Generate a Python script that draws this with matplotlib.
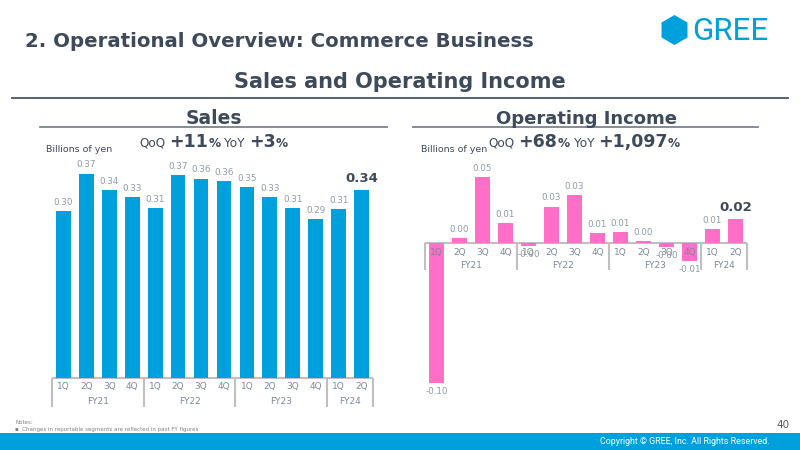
import matplotlib
matplotlib.use('Agg')
import matplotlib.pyplot as plt
from matplotlib.patches import Rectangle, RegularPolygon

# ---------------- data ----------------
quarters = ['1Q', '2Q', '3Q', '4Q', '1Q', '2Q', '3Q', '4Q',
            '1Q', '2Q', '3Q', '4Q', '1Q', '2Q']
fiscal_years = ['FY21', 'FY22', 'FY23', 'FY24']
fy_spans = [(0, 3), (4, 7), (8, 11), (12, 13)]
sales = [0.303, 0.371, 0.341, 0.329, 0.309, 0.369, 0.362, 0.358,
         0.347, 0.329, 0.309, 0.288, 0.307, 0.341]
op_income = [-0.100, 0.0036, 0.047, 0.014, -0.002, 0.026, 0.034, 0.007,
             0.008, 0.0015, -0.003, -0.013, 0.010, 0.017]
sales_qoq, sales_yoy = '+11', '+3'
op_qoq, op_yoy = '+68', '+1,097'

# ---------------- style ----------------
W, H = 800, 450
DARK = '#3E4A5A'
GRAY = '#7C8895'
VAL = '#8D99A6'
LINE = '#BFBFBF'
BLUE = '#00A0DC'
PINK = '#FF6EC7'

fig = plt.figure(figsize=(8, 4.5), dpi=100)
fig.patch.set_facecolor('white')


def fig_rect(x0, y0, x1, y1):
    return [x0 / W, 1 - y1 / H, (x1 - x0) / W, (y1 - y0) / H]


# overlay axes in pixel coordinates
ov = fig.add_axes([0, 0, 1, 1], zorder=0)
ov.set_xlim(0, W)
ov.set_ylim(H, 0)
ov.axis('off')


def bar_panel(rect_px, zero_px, scale, values, color, sep_px, q_px, fy_px):
    x0, y0, x1, y1 = rect_px
    ax = fig.add_axes(fig_rect(*rect_px), zorder=2)
    ax.set_xlim(-0.5, len(values) - 0.5)
    ax.set_ylim(-(y1 - zero_px) / scale, (zero_px - y0) / scale)
    ax.axis('off')
    px = 1.0 / scale
    xs = list(range(len(values)))
    ax.bar(xs, values, width=0.64, color=color, zorder=2)
    ax.plot([-0.5, len(values) - 0.5], [0, 0], color=LINE, lw=1.5,
            zorder=1, clip_on=False, solid_capstyle='butt')
    for i, q in enumerate(quarters):
        ax.text(i, -q_px * px, q, ha='center', va='center', fontsize=6.5,
                color=GRAY, zorder=4)
    bounds = [-0.5] + [b + 0.5 for a, b in fy_spans]
    for b in bounds:
        ax.plot([b, b], [0, -sep_px * px], color=LINE, lw=1.5,
                clip_on=False, zorder=1, solid_capstyle='butt')
    for (a, b), fy in zip(fy_spans, fiscal_years):
        ax.text((a + b) / 2, -fy_px * px, fy, ha='center', va='center',
                fontsize=6.5, color=GRAY, zorder=4)
    for i, v in enumerate(values):
        last = i == len(values) - 1
        kw = dict(ha='center', textcoords='offset points', zorder=5,
                  annotation_clip=False)
        if last:
            kw.update(fontsize=9.5, fontweight='bold', color=DARK)
        else:
            kw.update(fontsize=6.3, color=VAL)
        if v >= 0:
            ax.annotate(f'{v:.2f}', (i, v), xytext=(0, 3.5 if last else 3),
                        va='bottom', **kw)
        else:
            ax.annotate(f'{v:.2f}', (i, v), xytext=(0, -3), va='top', **kw)
    return ax


bar_panel((52, 140, 373, 412), 378, 551.0, sales, BLUE, 29, 9, 23)
bar_panel((425, 160, 747, 400), 243, 1400.0, op_income, PINK, 27, 9, 22)

renderer = fig.canvas.get_renderer()


def rich(xc, y, parts):
    texts, gaps = [], []
    for s, size, weight, gap in parts:
        t = ov.text(0, y, s, fontsize=size, fontweight=weight, color=DARK,
                    va='baseline', ha='left')
        texts.append(t)
        gaps.append(gap)
    widths = [t.get_window_extent(renderer).width for t in texts]
    total = sum(widths) + sum(gaps[:-1])
    x = xc - total / 2
    for t, w, g in zip(texts, widths, gaps):
        t.set_x(x)
        x += w + g


# header
ov.text(25, 47, '2. Operational Overview: Commerce Business', fontsize=14.2,
        fontweight='bold', color=DARK, va='baseline', ha='left')
# logo
ov.add_patch(RegularPolygon((674.5, 30), numVertices=6, radius=15,
                            orientation=0, color=BLUE, lw=0))
ov.text(692, 40.5, 'GREE', fontsize=22.5, family='Roboto', color=BLUE,
        va='baseline', ha='left')
# main title
ov.text(400, 88, 'Sales and Operating Income', fontsize=15,
        fontweight='bold', color=DARK, va='baseline', ha='center')
ov.plot([12, 788], [97.5, 97.5], color='#4A5563', lw=1.3)

# panel titles
ov.text(214, 124, 'Sales', fontsize=13.5, fontweight='bold', color=DARK,
        va='baseline', ha='center')
ov.plot([40, 387], [126.5, 126.5], color='#7A8491', lw=1.3)
ov.text(586, 124, 'Operating Income', fontsize=13, fontweight='bold',
        color=DARK, va='baseline', ha='center')
ov.plot([413, 758], [126.5, 126.5], color='#7A8491', lw=1.3)

rich(213.5, 147, [('QoQ', 8.7, 'normal', 4), (sales_qoq, 12.5, 'bold', 0),
                  ('%', 8.7, 'bold', 4), ('YoY', 8.7, 'normal', 4),
                  (sales_yoy, 12.5, 'bold', 0), ('%', 8.7, 'bold', 0)])
rich(584, 147, [('QoQ', 8.7, 'normal', 4), (op_qoq, 12.5, 'bold', 0),
                ('%', 8.7, 'bold', 4), ('YoY', 8.7, 'normal', 4),
                (op_yoy, 12.5, 'bold', 0), ('%', 8.7, 'bold', 0)])

ov.text(46, 150, 'Billions of yen', fontsize=6.8, color=DARK,
        va='center', ha='left')
ov.text(421, 150, 'Billions of yen', fontsize=6.8, color=DARK,
        va='center', ha='left')

# footer
ov.text(15, 422, 'Notes:', fontsize=4, color='#808080', va='center', ha='left')
ov.text(15, 429, '\u25aa  Changes in reportable segments are reflected in past FY figures',
        fontsize=4, color='#808080', va='center', ha='left')
ov.text(790, 425, '40', fontsize=7.5, color='#595959', va='center', ha='right')
ov.add_patch(Rectangle((0, 433), W, 17, color=BLUE, lw=0))
ov.text(770, 442, 'Copyright \u00a9 GREE, Inc. All Rights Reserved.',
        fontsize=6.4, family='Roboto', color='white', va='center', ha='right')

fig.savefig('out.png', dpi=100, facecolor='white')
